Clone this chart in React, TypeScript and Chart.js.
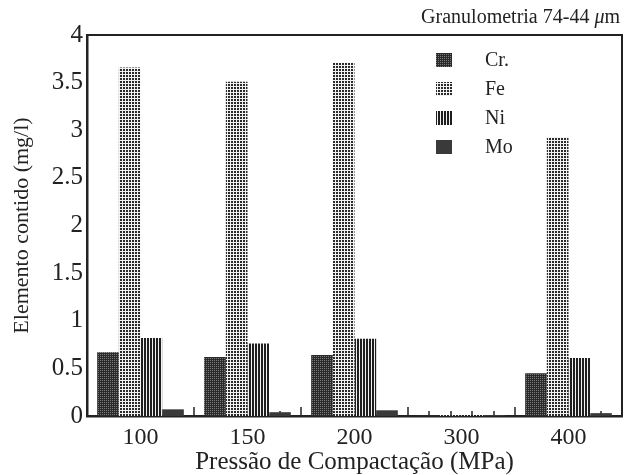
import React, { useEffect, useRef } from "react";
import { Chart, registerables } from "chart.js";

Chart.register(...registerables);

// ---- data ----
const categories = ["100", "150", "200", "300", "400"];
const seriesNames = ["Cr.", "Fe", "Ni", "Mo"];
const crValues = [0.67, 0.62, 0.64, 0.01, 0.45];
const feValues = [3.66, 3.51, 3.71, 0.01, 2.93];
const niValues = [0.82, 0.76, 0.81, 0.01, 0.61];
const moValues = [0.07, 0.04, 0.06, 0.01, 0.03];
const yTicks = [0, 0.5, 1, 1.5, 2, 2.5, 3, 3.5, 4];
const titleParts: [string, boolean][] = [
  ["Granulometria 74-44 ", false],
  ["μ", true],
  ["m", false],
];
const xTitle = "Pressão de Compactação (MPa)";
const yTitle = "Elemento contido (mg/l)";

const serif = "'Liberation Serif', 'Times New Roman', serif";
const ink = "#222222";

function makePattern(
  w: number,
  h: number,
  bg: string,
  fg: string,
  rects: [number, number, number, number][]
): CanvasPattern {
  const c = document.createElement("canvas");
  c.width = w;
  c.height = h;
  const g = c.getContext("2d")!;
  g.fillStyle = bg;
  g.fillRect(0, 0, w, h);
  g.fillStyle = fg;
  rects.forEach(([x, y, rw, rh]) => g.fillRect(x, y, rw, rh));
  return g.createPattern(c, "repeat")!;
}

export default function App() {
  const ref = useRef<HTMLCanvasElement>(null);

  useEffect(() => {
    document.body.style.margin = "0";
    const canvas = ref.current!;

    const crFill = makePattern(2, 2, "#2a2a2a", "#7a7a7a", [[0, 0, 1, 1]]);
    const feFill = makePattern(3, 3, "#f2f2f2", "#2a2a2a", [[0, 0, 2, 2]]);
    const niFill = makePattern(3, 1, "#f2f2f2", "#1e1e1e", [[0, 0, 2, 1]]);
    const moFill = "#3a3a3a";
    const fills = [crFill, feFill, niFill, moFill];
    const values = [crValues, feValues, niValues, moValues];

    const decorPlugin = {
      id: "decor",
      beforeDatasetsDraw(chart: any) {
        const { ctx, chartArea } = chart;
        const xs = chart.scales.x;
        ctx.save();
        ctx.strokeStyle = ink;
        ctx.lineWidth = 1.5;
        chart.data.datasets.forEach((_: any, di: number) => {
          chart.getDatasetMeta(di).data.forEach((bar: any) => {
            const bx = Math.round(bar.x);
            ctx.beginPath();
            ctx.moveTo(bx, chartArea.bottom);
            ctx.lineTo(bx, chartArea.bottom - 5);
            ctx.stroke();
          });
        });
        for (let i = 1; i < categories.length; i++) {
          const bx = Math.round(
            (xs.getPixelForValue(i - 1) + xs.getPixelForValue(i)) / 2
          );
          ctx.beginPath();
          ctx.moveTo(bx, chartArea.bottom);
          ctx.lineTo(bx, chartArea.bottom - 9);
          ctx.stroke();
        }
        ctx.restore();
      },
      afterDraw(chart: any) {
        const { ctx, chartArea } = chart;
        ctx.save();
        // frame top and right
        ctx.strokeStyle = ink;
        ctx.lineWidth = 2;
        ctx.beginPath();
        ctx.moveTo(chartArea.left - 1, chartArea.top);
        ctx.lineTo(chartArea.right, chartArea.top);
        ctx.lineTo(chartArea.right, chartArea.bottom);
        ctx.stroke();

        // legend
        const boxLeft = chartArea.right - 186;
        const labelLeft = chartArea.right - 137;
        const firstY = chartArea.top + 25;
        const step = 29;
        ctx.font = `20px ${serif}`;
        ctx.textBaseline = "middle";
        ctx.textAlign = "left";
        seriesNames.forEach((name, i) => {
          const cy = firstY + i * step;
          ctx.fillStyle = fills[i] as any;
          ctx.fillRect(boxLeft, cy - 7, 16, 14);
          ctx.fillStyle = ink;
          ctx.fillText(name, labelLeft, cy + 1);
        });

        // title (right aligned, italic mu)
        let x = chart.width - 4;
        const ty = 18;
        ctx.textAlign = "right";
        ctx.fillStyle = ink;
        for (let i = titleParts.length - 1; i >= 0; i--) {
          const [txt, italic] = titleParts[i];
          ctx.font = `${italic ? "italic " : ""}20px ${serif}`;
          ctx.fillText(txt, x, ty);
          x -= ctx.measureText(txt).width;
        }
        ctx.restore();
      },
    };

    const chart = new Chart(canvas, {
      type: "bar",
      data: {
        labels: categories,
        datasets: seriesNames.map((name, i) => ({
          label: name,
          data: values[i],
          backgroundColor: fills[i] as any,
          borderWidth: 0,
          categoryPercentage: 0.81,
          barPercentage: 1.0,
        })),
      },
      options: {
        responsive: false,
        animation: false,
        layout: { padding: { top: 35, right: 2, left: 0, bottom: 0 } },
        plugins: {
          legend: { display: false },
          tooltip: { enabled: false },
          title: { display: false },
        },
        scales: {
          x: {
            grid: { display: false, drawTicks: false },
            border: { display: true, color: ink, width: 2.5 },
            ticks: {
              color: ink,
              font: { family: serif, size: 24 },
              padding: 7,
              maxRotation: 0,
            },
            title: {
              display: true,
              text: xTitle,
              color: ink,
              font: { family: serif, size: 25, lineHeight: 1.0 },
              padding: { top: 0, bottom: 0 },
            },
            afterFit(scale: any) {
              scale.height = 59;
            },
          },
          y: {
            min: 0,
            max: 4,
            grid: { display: false, drawTicks: false },
            border: { display: true, color: ink, width: 2.5 },
            afterBuildTicks(scale: any) {
              scale.ticks = yTicks.map((v) => ({ value: v }));
            },
            ticks: {
              color: ink,
              font: { family: serif, size: 25 },
              padding: 4,
              callback: (v: any) => String(v),
            },
            title: {
              display: true,
              text: yTitle,
              color: ink,
              font: { family: serif, size: 22 },
              padding: { top: 9, bottom: 0 },
            },
            afterFit(scale: any) {
              scale.width = 87;
            },
          },
        },
      },
      plugins: [decorPlugin],
    } as any);

    return () => chart.destroy();
  }, []);

  return (
    <div style={{ width: 624, height: 475, background: "#fff" }}>
      <canvas ref={ref} width={624} height={475} />
    </div>
  );
}
